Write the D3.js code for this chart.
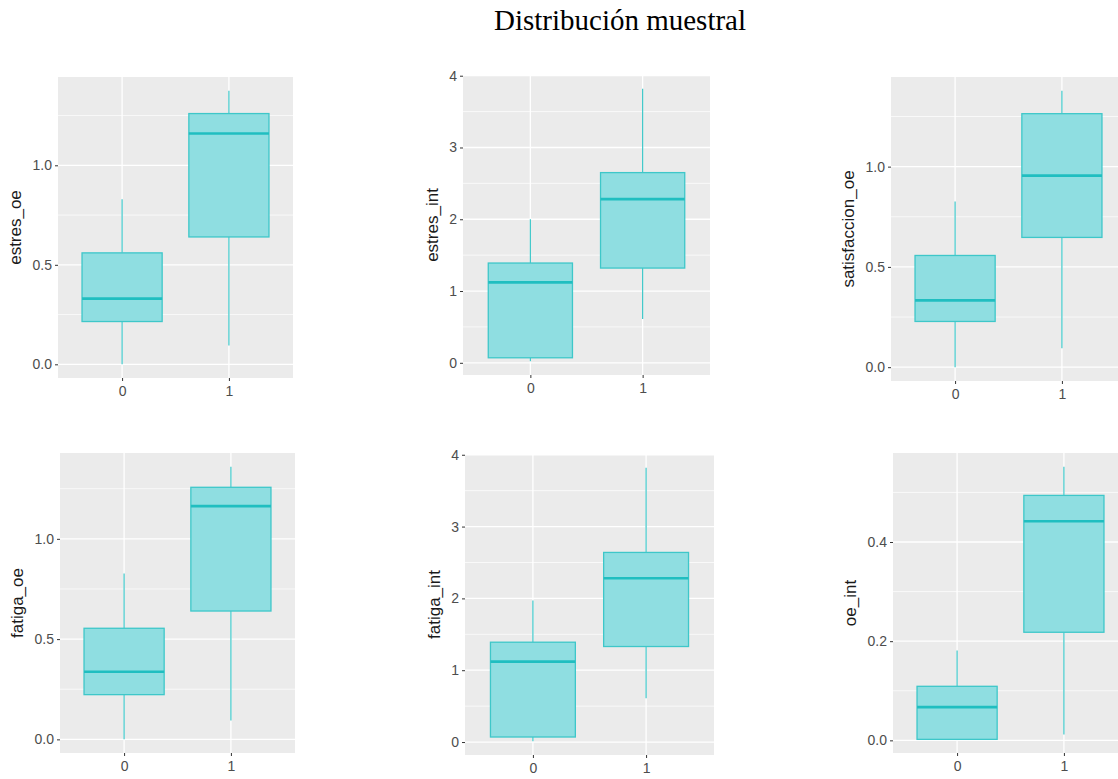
<!DOCTYPE html>
<html>
<head>
<meta charset="utf-8">
<script src="https://cdn.jsdelivr.net/npm/d3@7"></script>
<style>
  html, body { margin: 0; padding: 0; background: #ffffff; overflow: hidden; }
  svg { display: block; }
</style>
</head>
<body>
<svg id="chart" width="1118" height="779"></svg>
<script>
// Groups on the x axis
const groups = ["0", "1"];

// Five-number summaries per variable: [lower whisker, Q1, median, Q3, upper whisker]
const estres_oe       = [[0.00, 0.215, 0.33, 0.56, 0.83], [0.095, 0.64, 1.16, 1.26, 1.375]];
const estres_int      = [[0.02, 0.07, 1.12, 1.39, 2.00], [0.61, 1.32, 2.28, 2.65, 3.82]];
const satisfaccion_oe = [[0.00, 0.228, 0.333, 0.557, 0.826], [0.095, 0.647, 0.955, 1.264, 1.378]];
const fatiga_oe       = [[0.00, 0.223, 0.337, 0.554, 0.827], [0.094, 0.64, 1.163, 1.257, 1.36]];
const fatiga_int      = [[0.01, 0.07, 1.12, 1.39, 1.97], [0.61, 1.33, 2.28, 2.64, 3.82]];
const oe_int          = [[0.002, 0.002, 0.067, 0.109, 0.181], [0.012, 0.218, 0.442, 0.494, 0.552]];

// Y tick values per variable
const ticksOe  = [0, 0.5, 1.0];
const ticksInt = [0, 1, 2, 3, 4];
const ticksOeInt = [0, 0.2, 0.4];

const panels = [
  { name: "estres_oe",       stats: estres_oe,       ticks: ticksOe,    fmt: ".1f", box: [58, 293, 77, 378] },
  { name: "estres_int",      stats: estres_int,      ticks: ticksInt,   fmt: "d",   box: [463, 710, 75, 375] },
  { name: "satisfaccion_oe", stats: satisfaccion_oe, ticks: ticksOe,    fmt: ".1f", box: [891, 1126, 77, 381] },
  { name: "fatiga_oe",       stats: fatiga_oe,       ticks: ticksOe,    fmt: ".1f", box: [60, 295, 453, 753] },
  { name: "fatiga_int",      stats: fatiga_int,      ticks: ticksInt,   fmt: "d",   box: [465, 714, 454, 755] },
  { name: "oe_int",          stats: oe_int,          ticks: ticksOeInt, fmt: ".1f", box: [893, 1128, 453, 753] }
];

const svg = d3.select("#chart");

svg.append("text")
  .attr("x", 620).attr("y", 30)
  .attr("text-anchor", "middle")
  .attr("font-family", "'Liberation Serif', 'Times New Roman', serif")
  .attr("font-size", 29)
  .attr("fill", "#000")
  .text("Distribución muestral");

const boxFill = "#8FDEE1";
const boxLine = "#3EC7C9";
const medLine = "#20BEC0";

panels.forEach(p => {
  const [x0, x1, y0, y1] = p.box;
  const lo = d3.min(p.stats, s => s[0]);
  const hi = d3.max(p.stats, s => s[4]);
  const pad = (hi - lo) * 0.05;

  const y = d3.scaleLinear().domain([lo - pad, hi + pad]).range([y1, y0]);
  const x = d3.scaleLinear().domain([0.4, 2.6]).range([x0, x1]);
  const xPos = i => x(i + 1);
  const halfW = (x(1.375) - x(1)) ;

  const g = svg.append("g");

  // panel background
  g.append("rect")
    .attr("x", x0).attr("y", y0)
    .attr("width", x1 - x0).attr("height", y1 - y0)
    .attr("fill", "#EBEBEB");

  // minor horizontal gridlines (midpoints between major ticks)
  const step = p.ticks[1] - p.ticks[0];
  const minor = [];
  for (let v = p.ticks[0] - step / 2; v <= hi + pad; v += step) {
    if (v >= lo - pad) minor.push(v);
  }
  g.selectAll(".minor").data(minor).join("line")
    .attr("x1", x0).attr("x2", x1)
    .attr("y1", d => y(d)).attr("y2", d => y(d))
    .attr("stroke", "#ffffff").attr("stroke-width", 0.7);

  // major gridlines
  g.selectAll(".majorY").data(p.ticks).join("line")
    .attr("x1", x0).attr("x2", x1)
    .attr("y1", d => y(d)).attr("y2", d => y(d))
    .attr("stroke", "#ffffff").attr("stroke-width", 1.3);
  g.selectAll(".majorX").data(groups).join("line")
    .attr("x1", (d, i) => xPos(i)).attr("x2", (d, i) => xPos(i))
    .attr("y1", y0).attr("y2", y1)
    .attr("stroke", "#ffffff").attr("stroke-width", 1.3);

  // y axis
  const yAxis = g.append("g")
    .attr("transform", `translate(${x0},0)`)
    .call(d3.axisLeft(y).tickValues(p.ticks).tickFormat(d3.format(p.fmt)).tickSize(3).tickPadding(3));
  yAxis.select(".domain").remove();
  yAxis.selectAll(".tick line").attr("stroke", "#333333");
  yAxis.selectAll(".tick text")
    .attr("fill", "#4D4D4D")
    .attr("font-family", "'Liberation Sans', Arial, sans-serif")
    .attr("font-size", 14);

  // x axis
  const xAxis = g.append("g")
    .attr("transform", `translate(0,${y1})`)
    .call(d3.axisBottom(x).tickValues([1, 2]).tickFormat(d => groups[d - 1]).tickSize(3).tickPadding(5));
  xAxis.select(".domain").remove();
  xAxis.selectAll(".tick line").attr("stroke", "#333333");
  xAxis.selectAll(".tick text")
    .attr("fill", "#4D4D4D")
    .attr("font-family", "'Liberation Sans', Arial, sans-serif")
    .attr("font-size", 14);

  // y axis title
  let labW = 0;
  yAxis.selectAll(".tick text").each(function () { labW = Math.max(labW, this.getBBox().width); });
  const tx = x0 - 6 - labW - 17;
  const ty = (y0 + y1) / 2;
  g.append("text")
    .attr("transform", `translate(${tx},${ty}) rotate(-90)`)
    .attr("text-anchor", "middle")
    .attr("dy", "0.35em")
    .attr("font-family", "'Liberation Sans', Arial, sans-serif")
    .attr("font-size", 17)
    .attr("fill", "#1a1a1a")
    .text(p.name);

  // boxes
  const bx = g.selectAll(".bx").data(p.stats).join("g");
  bx.append("line")
    .attr("x1", (d, i) => xPos(i)).attr("x2", (d, i) => xPos(i))
    .attr("y1", d => y(d[3])).attr("y2", d => y(d[4]))
    .attr("stroke", boxLine).attr("stroke-width", 1.2);
  bx.append("line")
    .attr("x1", (d, i) => xPos(i)).attr("x2", (d, i) => xPos(i))
    .attr("y1", d => y(d[0])).attr("y2", d => y(d[1]))
    .attr("stroke", boxLine).attr("stroke-width", 1.2);
  bx.append("rect")
    .attr("x", (d, i) => xPos(i) - halfW)
    .attr("width", 2 * halfW)
    .attr("y", d => y(d[3]))
    .attr("height", d => y(d[1]) - y(d[3]))
    .attr("fill", boxFill)
    .attr("stroke", boxLine).attr("stroke-width", 1.3);
  bx.append("line")
    .attr("x1", (d, i) => xPos(i) - halfW).attr("x2", (d, i) => xPos(i) + halfW)
    .attr("y1", d => y(d[2])).attr("y2", d => y(d[2]))
    .attr("stroke", medLine).attr("stroke-width", 2.6);
});
</script>
</body>
</html>
